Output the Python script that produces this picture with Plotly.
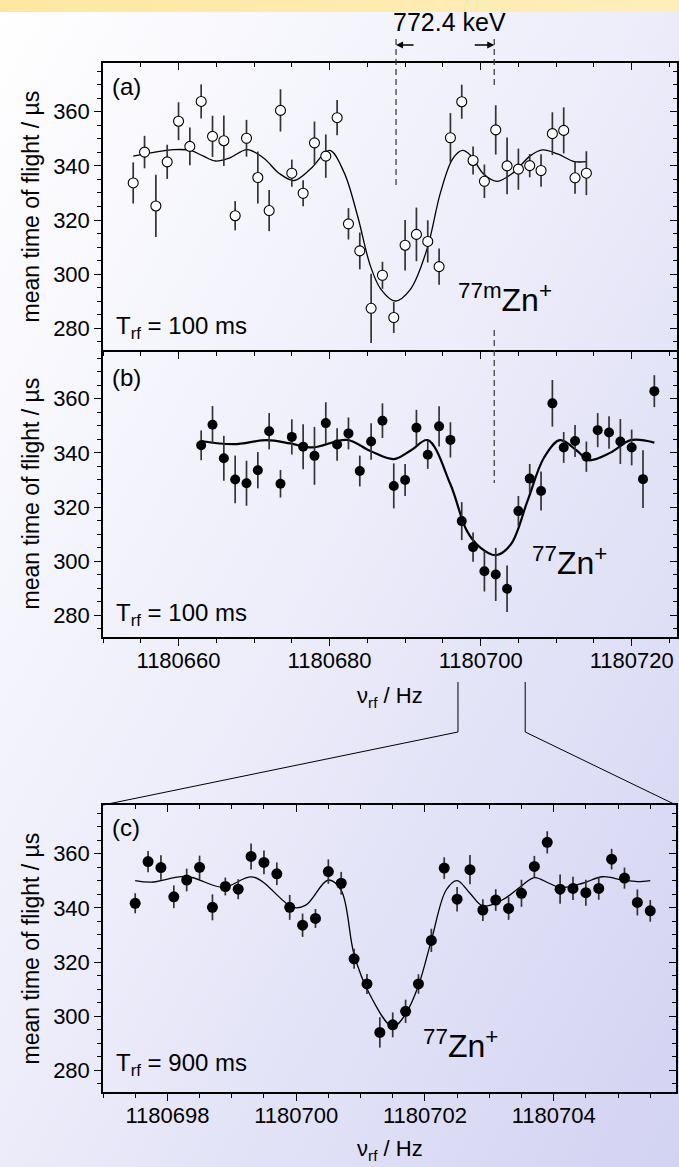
import base64
import plotly.graph_objects as go

W, H = 679, 1167
FONT = "Liberation Sans, Arial, Helvetica, sans-serif"

# ---------------- data: panel (a) 77mZn+, T_rf = 100 ms ----------------
a_freq = [1180654.0, 1180655.5, 1180657.0, 1180658.5, 1180660.0, 1180661.5, 1180663.0, 1180664.5,
          1180666.0, 1180667.5, 1180669.0, 1180670.5, 1180672.0, 1180673.5, 1180675.0, 1180676.5,
          1180678.0, 1180679.5, 1180681.0, 1180682.5, 1180684.0, 1180685.5, 1180687.0, 1180688.5,
          1180690.0, 1180691.5, 1180693.0, 1180694.5, 1180696.0, 1180697.5, 1180699.0, 1180700.5,
          1180702.0, 1180703.5, 1180705.0, 1180706.5, 1180708.0, 1180709.5, 1180711.0, 1180712.5,
          1180714.0]
a_tof = [333.7, 345.1, 325.2, 341.5, 356.5, 347.2, 363.8, 350.9, 349.3, 321.6,
         350.2, 335.7, 323.5, 360.5, 337.3, 329.9, 348.5, 343.6, 357.8, 318.6,
         308.6, 287.4, 299.6, 284.0, 310.7, 314.7, 312.1, 302.8, 350.4, 363.7,
         342.0, 334.3, 353.3, 340.0, 338.8, 340.1, 338.3, 351.9, 353.1, 335.6, 337.3]
a_err = [7.6, 6.0, 11.5, 6.3, 7.0, 7.0, 6.3, 7.6, 9.3, 5.4,
         6.8, 9.6, 7.6, 7.8, 5.0, 4.8, 7.9, 8.0, 6.5, 5.8,
         6.8, 12.8, 5.0, 5.7, 9.3, 9.9, 7.8, 6.7, 9.1, 6.3,
         5.2, 6.2, 9.1, 10.5, 7.6, 4.3, 6.0, 7.9, 8.5, 5.9, 8.1]
a_fit_x = [1180654.0, 1180656.3, 1180659.4, 1180661.6, 1180663.3, 1180664.9, 1180666.8, 1180669.1,
           1180671.3, 1180673.3, 1180675.3, 1180677.5, 1180680.0, 1180681.9, 1180683.7, 1180685.4,
           1180686.8, 1180688.7, 1180690.7, 1180692.9, 1180694.7, 1180696.3, 1180697.6, 1180698.7,
           1180700.4, 1180702.2, 1180704.4, 1180706.6, 1180708.2, 1180710.2, 1180712.4, 1180714.0]
a_fit_y = [343.6, 344.8, 346.0, 345.7, 343.6, 341.8, 343.0, 346.0,
           342.8, 337.3, 334.6, 338.9, 345.7, 337.7, 321.6, 303.1,
           294.4, 290.1, 294.4, 309.3, 330.3, 342.6, 345.7, 343.8,
           337.0, 334.3, 337.7, 343.8, 345.9, 344.4, 341.6, 341.6]

# ---------------- data: panel (b) 77Zn+, T_rf = 100 ms ----------------
b_freq = [1180663.0, 1180664.5, 1180666.0, 1180667.5, 1180669.0, 1180670.5, 1180672.0, 1180673.5,
          1180675.0, 1180676.5, 1180678.0, 1180679.5, 1180681.0, 1180682.5, 1180684.0, 1180685.5,
          1180687.0, 1180688.5, 1180690.0, 1180691.5, 1180693.0, 1180694.5, 1180696.0, 1180697.5,
          1180699.0, 1180700.5, 1180702.0, 1180703.5, 1180705.0, 1180706.5, 1180708.0, 1180709.5,
          1180711.0, 1180712.5, 1180714.0, 1180715.5, 1180717.0, 1180718.5, 1180720.0, 1180721.5,
          1180723.0]
b_tof = [342.8, 350.4, 338.0, 330.2, 328.8, 333.6, 348.0, 328.6, 345.9, 342.3,
         338.9, 351.0, 343.1, 347.2, 333.3, 344.2, 351.9, 327.8, 330.0, 349.3,
         339.3, 349.8, 344.8, 314.8, 305.2, 296.3, 295.1, 289.8, 318.5, 330.5,
         325.9, 358.3, 342.0, 344.4, 338.6, 348.4, 347.5, 344.2, 342.0, 330.3, 362.8]
b_err = [5.5, 6.9, 8.3, 8.8, 8.3, 6.7, 6.7, 5.1, 6.5, 8.3,
         10.7, 7.7, 6.0, 5.9, 5.7, 6.7, 6.4, 8.3, 5.9, 6.6,
         5.2, 7.4, 6.5, 7.0, 5.4, 7.5, 9.8, 8.6, 5.6, 5.4,
         7.2, 8.6, 5.7, 5.9, 5.6, 6.3, 6.0, 8.3, 6.6, 10.7, 5.9]
b_fit_x = [1180663.0, 1180667.3, 1180671.7, 1180674.8, 1180677.7, 1180682.3, 1180685.4, 1180688.5,
           1180690.8, 1180693.0, 1180696.0, 1180698.2, 1180700.0, 1180702.0, 1180704.0, 1180706.2,
           1180708.4, 1180710.5, 1180712.8, 1180714.3, 1180717.2, 1180719.9, 1180723.0]
b_fit_y = [344.4, 343.2, 344.7, 343.5, 342.0, 344.8, 340.7, 337.7,
           341.0, 344.7, 328.4, 311.1, 304.9, 302.2, 306.2, 322.2,
           338.3, 344.7, 340.7, 337.3, 340.1, 344.7, 343.8]

# ---------------- data: panel (c) 77Zn+, T_rf = 900 ms ----------------
c_freq = [1180697.5, 1180697.7, 1180697.9, 1180698.1, 1180698.3, 1180698.5, 1180698.7, 1180698.9,
          1180699.1, 1180699.3, 1180699.5, 1180699.7, 1180699.9, 1180700.1, 1180700.3, 1180700.5,
          1180700.7, 1180700.9, 1180701.1, 1180701.3, 1180701.5, 1180701.7, 1180701.9, 1180702.1,
          1180702.3, 1180702.5, 1180702.7, 1180702.9, 1180703.1, 1180703.3, 1180703.5, 1180703.7,
          1180703.9, 1180704.1, 1180704.3, 1180704.5, 1180704.7, 1180704.9, 1180705.1, 1180705.3,
          1180705.5]
c_tof = [341.7, 357.1, 354.9, 344.1, 350.3, 355.0, 340.2, 347.9, 346.9, 359.0,
         356.8, 352.6, 340.2, 333.6, 336.1, 353.4, 349.1, 321.2, 311.9, 294.0,
         296.8, 301.8, 311.9, 328.0, 354.7, 343.2, 354.1, 339.2, 342.9, 339.8,
         345.4, 355.3, 364.2, 346.9, 347.2, 345.6, 347.2, 358.0, 351.0, 342.0, 338.9]
c_err = [3.7, 3.9, 4.5, 4.2, 4.2, 4.3, 4.8, 3.3, 3.7, 4.8,
         4.4, 4.2, 4.6, 4.3, 3.5, 4.5, 4.2, 3.7, 3.7, 5.6,
         4.6, 4.3, 3.6, 4.3, 4.0, 4.5, 5.4, 4.0, 4.0, 4.2,
         5.0, 3.9, 4.1, 5.4, 4.3, 4.8, 4.2, 3.8, 3.9, 4.8, 4.0]
c_fit_x = [1180697.5, 1180697.75, 1180698.3, 1180698.87, 1180699.33, 1180699.95, 1180700.15, 1180700.5,
           1180700.7, 1180700.9, 1180701.14, 1180701.5, 1180701.7, 1180701.9, 1180702.1, 1180702.33,
           1180702.5, 1180702.7, 1180702.9, 1180703.2, 1180703.5, 1180703.7, 1180703.93, 1180704.1,
           1180704.45, 1180704.76, 1180705.07, 1180705.3, 1180705.5]
c_fit_y = [350.1, 349.5, 351.6, 347.6, 351.4, 340.2, 341.0, 350.3,
           346.5, 322.8, 308.2, 296.1, 300.8, 311.3, 328.0, 346.6,
           350.1, 345.4, 340.7, 342.9, 348.1, 351.2, 349.1, 347.5,
           349.1, 351.5, 350.3, 349.7, 350.1]

# tick settings / annotation values
y_range = [272, 378]
y_ticks = [280, 300, 320, 340, 360]
ab_range = [1180650, 1180726]
ab_ticks = [1180660, 1180680, 1180700, 1180720]
c_range = [1180697.0, 1180705.9]
c_ticks = [1180698, 1180700, 1180702, 1180704]
center_77m = 1180688.8
center_77 = 1180701.8
energy_label = "772.4 keV"


def py(p):
    return 1 - p / H


DOM_X_AB = [103 / W, 677 / W]
DOM_X_C = [103 / W, 676 / W]
DOM_Y = {"a": [py(350), py(63)], "b": [py(637), py(350)], "c": [py(1092), py(805)]}

fig = go.Figure()

# axis ids per panel: main x, main y, top x, right y
panels = {
    "a": dict(x="x", y="y", xt="x4", yr="y4", xdom=DOM_X_AB, xr=ab_range, xt_vals=ab_ticks,
              xminor=5, labels=False, mirror=True),
    "b": dict(x="x2", y="y2", xt="x5", yr="y5", xdom=DOM_X_AB, xr=ab_range, xt_vals=ab_ticks,
              xminor=5, labels=True, mirror=False),
    "c": dict(x="x3", y="y3", xt="x6", yr="y6", xdom=DOM_X_C, xr=c_range, xt_vals=c_ticks,
              xminor=0.5, labels=True, mirror=True),
}


def lname(axid):
    return ("xaxis" if axid[0] == "x" else "yaxis") + axid[1:]


tickfont = dict(family=FONT, size=22, color="black")
layout_axes = {}
for key, p in panels.items():
    base_x = dict(domain=p["xdom"], range=p["xr"], showgrid=False, zeroline=False)
    base_y = dict(domain=DOM_Y[key], range=y_range, showgrid=False, zeroline=False)
    layout_axes[lname(p["x"])] = dict(
        base_x, anchor=p["y"], showline=True, linecolor="black", linewidth=1.5,
        mirror=p["mirror"],
        ticks="outside", ticklen=7, tickwidth=1.3, tickcolor="black",
        tickvals=p["xt_vals"], tickformat="d", showticklabels=p["labels"], tickfont=tickfont,
        ticklabelstandoff=-4,
        minor=dict(ticks="outside", ticklen=4, tickwidth=1.3, tickcolor="black",
                   dtick=p["xminor"], tick0=p["xt_vals"][0], showgrid=False))
    layout_axes[lname(p["y"])] = dict(
        base_y, anchor=p["x"], showline=True, linecolor="black", linewidth=1.5, mirror=True,
        ticks="outside", ticklen=7, tickwidth=1.3, tickcolor="black",
        tickvals=y_ticks, showticklabels=True, tickfont=tickfont,
        minor=dict(ticks="outside", ticklen=4, tickwidth=1.3, tickcolor="black",
                   dtick=5, tick0=280, showgrid=False))
    layout_axes[lname(p["xt"])] = dict(
        base_x, anchor=p["y"], overlaying=p["x"], side="top", showline=False,
        ticks="inside", ticklen=7, tickwidth=1.3, tickcolor="black", tickvals=p["xt_vals"],
        showticklabels=False,
        minor=dict(ticks="inside", ticklen=4, tickwidth=1.3, tickcolor="black",
                   dtick=p["xminor"], tick0=p["xt_vals"][0], showgrid=False))
    layout_axes[lname(p["yr"])] = dict(
        base_y, anchor=p["x"], overlaying=p["y"], side="right", showline=False,
        ticks="inside", ticklen=7, tickwidth=1.3, tickcolor="black", tickvals=y_ticks,
        showticklabels=False,
        minor=dict(ticks="inside", ticklen=4, tickwidth=1.3, tickcolor="black",
                   dtick=5, tick0=280, showgrid=False))
    # empty traces so the mirror-tick axes are drawn
    fig.add_trace(go.Scatter(x=[], y=[], xaxis=p["xt"], yaxis=p["y"], hoverinfo="skip"))
    fig.add_trace(go.Scatter(x=[], y=[], xaxis=p["x"], yaxis=p["yr"], hoverinfo="skip"))

ERR = dict(type="data", visible=True, color="#333333", thickness=1.7, width=0)

# panel (a)
fig.add_trace(go.Scatter(x=a_fit_x, y=a_fit_y, mode="lines", xaxis="x", yaxis="y",
                         line=dict(color="black", width=1.3, shape="spline", smoothing=1.0)))
fig.add_trace(go.Scatter(x=a_freq, y=a_tof, mode="markers", xaxis="x", yaxis="y",
                         error_y=dict(ERR, array=a_err),
                         marker=dict(symbol="circle", size=10, color="white",
                                     line=dict(color="black", width=1.1))))
# panel (b)
fig.add_trace(go.Scatter(x=b_fit_x, y=b_fit_y, mode="lines", xaxis="x2", yaxis="y2",
                         line=dict(color="black", width=2.2, shape="spline", smoothing=1.0)))
fig.add_trace(go.Scatter(x=b_freq, y=b_tof, mode="markers", xaxis="x2", yaxis="y2",
                         error_y=dict(ERR, array=b_err),
                         marker=dict(symbol="circle", size=10, color="black")))
# panel (c)
fig.add_trace(go.Scatter(x=c_fit_x, y=c_fit_y, mode="lines", xaxis="x3", yaxis="y3",
                         line=dict(color="black", width=1.3, shape="spline", smoothing=1.0)))
fig.add_trace(go.Scatter(x=c_freq, y=c_tof, mode="markers", xaxis="x3", yaxis="y3",
                         error_y=dict(ERR, array=c_err),
                         marker=dict(symbol="circle", size=11, color="black")))


def xpaper(val, dom, rng):
    return dom[0] + (val - rng[0]) / (rng[1] - rng[0]) * (dom[1] - dom[0])


shapes = []
dash = dict(color="#333333", width=1.2, dash="6px,4px")
shapes.append(dict(type="line", xref="x", yref="paper", x0=center_77m, x1=center_77m,
                   y0=py(39), y1=py(185), line=dash))
shapes.append(dict(type="line", xref="x", yref="paper", x0=center_77, x1=center_77,
                   y0=py(39), y1=py(86), line=dash))
shapes.append(dict(type="line", xref="x", yref="paper", x0=center_77, x1=center_77,
                   y0=py(330), y1=py(483), line=dash))

# zoom connectors from panel (b) to panel (c)
zl = xpaper(c_range[0], DOM_X_AB, ab_range)
zr = xpaper(c_range[1], DOM_X_AB, ab_range)
line_thin = dict(color="black", width=1)
for xb, xc in ((zl, DOM_X_C[0]), (zr, DOM_X_C[1])):
    shapes.append(dict(type="line", xref="paper", yref="paper", x0=xb, x1=xb,
                       y0=py(682), y1=py(732), line=line_thin))
    shapes.append(dict(type="line", xref="paper", yref="paper", x0=xb, x1=xc,
                       y0=py(732), y1=DOM_Y["c"][1], line=line_thin))

ann = []
ann_font = dict(family=FONT, size=24, color="black")
for key, yc in (("a", 87), ("b", 377), ("c", 827)):
    ann.append(dict(text=f"({key})", xref="paper", yref="paper", x=110 / W, y=py(yc),
                    xanchor="left", yanchor="middle", showarrow=False, font=ann_font))
for txt, yc in (("T<sub>rf</sub> = 100 ms", 327), ("T<sub>rf</sub> = 100 ms", 614),
                ("T<sub>rf</sub> = 900 ms", 1064)):
    ann.append(dict(text=txt, xref="paper", yref="paper", x=114 / W, y=py(yc),
                    xanchor="left", yanchor="middle", showarrow=False, font=ann_font))
zn_font = dict(family=FONT, size=32, color="black")
ann.append(dict(text="<sup>77m</sup>Zn<sup>+</sup>", xref="paper", yref="paper",
                x=456 / W, y=py(298), xanchor="left", yanchor="middle", showarrow=False,
                font=zn_font))
ann.append(dict(text="<sup>77</sup>Zn<sup>+</sup>", xref="paper", yref="paper",
                x=530 / W, y=py(561), xanchor="left", yanchor="middle", showarrow=False,
                font=zn_font))
ann.append(dict(text="<sup>77</sup>Zn<sup>+</sup>", xref="paper", yref="paper",
                x=421 / W, y=py(1044), xanchor="left", yanchor="middle", showarrow=False,
                font=zn_font))
# y titles
for key in ("a", "b", "c"):
    yc = (DOM_Y[key][0] + DOM_Y[key][1]) / 2
    ann.append(dict(text="mean time of flight / µs", xref="paper", yref="paper",
                    x=31 / W, y=yc, textangle=-90, xanchor="center", yanchor="middle",
                    showarrow=False, font=dict(family=FONT, size=23, color="black")))
# x titles
ann.append(dict(text="ν<sub>rf</sub> / Hz", xref="paper", yref="paper", x=390 / W, y=py(697),
                xanchor="center", yanchor="middle", showarrow=False,
                font=dict(family=FONT, size=22, color="black")))
ann.append(dict(text="ν<sub>rf</sub> / Hz", xref="paper", yref="paper", x=390 / W, y=py(1150),
                xanchor="center", yanchor="middle", showarrow=False,
                font=dict(family=FONT, size=22, color="black")))
# energy difference label and arrows
ann.append(dict(text=energy_label, xref="paper", yref="paper", x=449 / W, y=py(22),
                xanchor="center", yanchor="middle", showarrow=False,
                font=dict(family=FONT, size=25, color="black")))
ann.append(dict(text="", xref="x", yref="paper", x=center_77m, y=py(45), ax=19, ay=0,
                showarrow=True, arrowhead=2, arrowsize=1, arrowwidth=1.4,
                arrowcolor="black", standoff=0))
ann.append(dict(text="", xref="x", yref="paper", x=center_77, y=py(45), ax=-21, ay=0,
                showarrow=True, arrowhead=2, arrowsize=1, arrowwidth=1.4,
                arrowcolor="black", standoff=0))

svg = f'''<svg xmlns="http://www.w3.org/2000/svg" width="{W}" height="{H}" viewBox="0 0 {W} {H}" preserveAspectRatio="none">
<defs>
<linearGradient id="bg" x1="0" y1="0" x2="1" y2="1">
<stop offset="0" stop-color="#ffffff"/>
<stop offset="0.45" stop-color="#eeeefb"/>
<stop offset="1" stop-color="#d2d2f2"/>
</linearGradient>
<linearGradient id="band" x1="0" y1="0" x2="1" y2="0">
<stop offset="0" stop-color="#fde7a2"/>
<stop offset="1" stop-color="#feeebb"/>
</linearGradient>
</defs>
<rect width="{W}" height="{H}" fill="url(#bg)"/>
<rect width="{W}" height="12" fill="url(#band)"/>
</svg>'''
uri = "data:image/svg+xml;base64," + base64.b64encode(svg.encode()).decode()

fig.update_layout(
    width=W, height=H, margin=dict(l=0, r=0, t=0, b=0, pad=0),
    paper_bgcolor="rgba(0,0,0,0)", plot_bgcolor="rgba(0,0,0,0)",
    showlegend=False, font=dict(family=FONT, color="black"),
    shapes=shapes, annotations=ann,
    images=[dict(source=uri, xref="paper", yref="paper", x=0, y=1, sizex=1, sizey=1,
                 xanchor="left", yanchor="top", sizing="stretch", layer="below")],
    **layout_axes,
)

fig.write_html("out.html")
